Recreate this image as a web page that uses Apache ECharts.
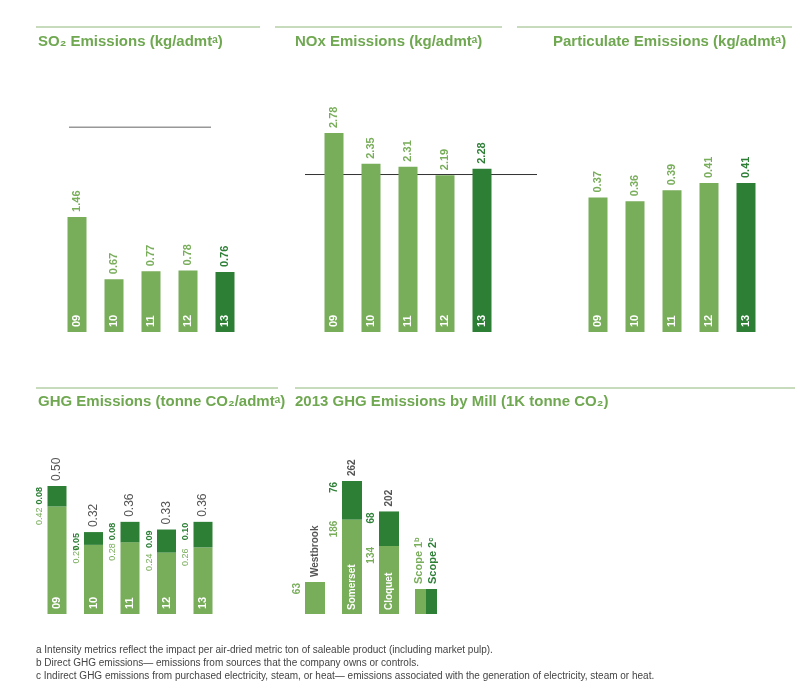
<!DOCTYPE html>
<html><head><meta charset="utf-8">
<script src="https://cdn.jsdelivr.net/npm/echarts@6/dist/echarts.min.js"></script>
<style>body{margin:0;background:#fff}#c{width:808px;height:700px}</style>
</head><body><div id="c"></div>
<script>
const years = ['09','10','11','12','13'];
const so2 = [1.46,0.67,0.77,0.78,0.76];
const nox = [2.78,2.35,2.31,2.19,2.28];
const particulate = [0.37,0.36,0.39,0.41,0.41];
const ghgScope1 = [0.42,0.27,0.28,0.24,0.26];
const ghgScope2 = [0.08,0.05,0.08,0.09,0.10];
const ghgTotal = [0.50,0.32,0.36,0.33,0.36];
const mills = ['Westbrook','Somerset','Cloquet'];
const millScope1 = [63,186,134];
const millScope2 = [0,76,68];
const millTotal = [63,262,202];
const so2Ref = 2.60, noxRef = 2.20;

const LG='#78ad5a', DG='#2c7f35', GR='#555', TC='#6fa851';
const F='Liberation Sans';
const chart = echarts.init(document.getElementById('c'));

const grids=[
 {left:58.5,width:185,top:127,height:205},
 {left:69,width:142,top:127,height:205},
 {left:315.5,width:185,top:133,height:199},
 {left:305,width:232,top:133,height:199},
 {left:579.5,width:185,top:183,height:149},
 {left:38.75,width:182.5,top:486,height:128},
 {left:296.5,width:111,top:481,height:133}
];
const xAxis=[], yAxis=[];
const maxes=[2.6,2.6,2.78,2.78,0.41,0.5,262];
grids.forEach((g,i)=>{
  const isRef = (i===1||i===3);
  xAxis.push(isRef?{type:'value',gridIndex:i,min:0,max:1,show:false}
    :{type:'category',gridIndex:i,data:(i===6?mills:years),show:false});
  yAxis.push({type:'value',gridIndex:i,min:0,max:maxes[i],show:false});
});

function yearBars(idx,vals){
  return {type:'bar',xAxisIndex:idx,yAxisIndex:idx,barWidth:19,z:3,
    data:vals.map((v,i)=>({value:v,itemStyle:{color:i===4?DG:LG},
      label:{color:i===4?DG:LG}})),
    label:{show:true,position:'top',rotate:90,align:'left',verticalAlign:'middle',distance:5,
      fontFamily:F,fontWeight:'bold',fontSize:11,formatter:p=>p.value.toFixed(2)},
    markPoint:null};
}
function yearInside(idx,vals){
  return {type:'bar',xAxisIndex:idx,yAxisIndex:idx,barWidth:19,barGap:'-100%',z:4,
    itemStyle:{color:'transparent'},data:vals,
    label:{show:true,position:'insideBottom',rotate:90,align:'left',verticalAlign:'middle',distance:5,
      color:'#fff',fontFamily:F,fontWeight:'bold',fontSize:11,formatter:p=>years[p.dataIndex]}};
}
function refLine(idx,val,noteStyle){
  return {type:'line',xAxisIndex:idx,yAxisIndex:idx,z:1,symbol:'none',silent:true,
    lineStyle:{color:'#333',width:1},
    data:[{value:[0,val],label:{show:true,position:'left',distance:5,color:GR,fontSize:9,fontFamily:F,formatter:val.toFixed(2)}},
          {value:[1,val],label:Object.assign({show:true,color:GR,fontSize:8,lineHeight:10,fontFamily:F,
             align:'left',verticalAlign:'top',formatter:'2010 AF&PA\naverage\nperformance'},noteStyle)}],
    label:{show:true}};
}
const sideLabel=(color)=>({show:true,position:[-3,1],rotate:90,align:'right',verticalAlign:'bottom',
  color:color,fontFamily:F,fontSize:9,fontWeight:'bold'});

const series=[
  yearBars(0,so2), yearInside(0,so2), refLine(1,so2Ref,{position:[8,-5]}),
  yearBars(2,nox), yearInside(2,nox), refLine(3,noxRef,{position:[-38,5]}),
  yearBars(4,particulate), yearInside(4,particulate),
  {type:'bar',xAxisIndex:5,yAxisIndex:5,stack:'g',barWidth:19,data:ghgScope1,itemStyle:{color:LG},
    label:Object.assign(sideLabel(LG),{fontWeight:'normal',formatter:p=>p.value.toFixed(2)})},
  {type:'bar',xAxisIndex:5,yAxisIndex:5,stack:'g',barWidth:19,data:ghgScope2,itemStyle:{color:DG},
    label:Object.assign(sideLabel(DG),{formatter:p=>p.value.toFixed(2)})},
  {type:'bar',xAxisIndex:5,yAxisIndex:5,barWidth:19,barGap:'-100%',z:4,data:ghgTotal,itemStyle:{color:'transparent'},
    label:{show:true,position:'insideBottom',rotate:90,align:'left',verticalAlign:'middle',distance:5,
      color:'#fff',fontFamily:F,fontWeight:'bold',fontSize:11,formatter:p=>years[p.dataIndex]}},
  {type:'bar',xAxisIndex:5,yAxisIndex:5,barWidth:19,barGap:'-100%',z:4,data:ghgTotal,itemStyle:{color:'transparent'},
    label:{show:true,position:'top',rotate:90,align:'left',verticalAlign:'middle',distance:5,
      color:GR,fontFamily:F,fontSize:12,formatter:p=>p.value.toFixed(2)}},
  {type:'bar',xAxisIndex:6,yAxisIndex:6,stack:'m',barWidth:20,data:millScope1,itemStyle:{color:LG},
    label:Object.assign(sideLabel(LG),{fontSize:10,formatter:p=>String(p.value)})},
  {type:'bar',xAxisIndex:6,yAxisIndex:6,stack:'m',barWidth:20,data:millScope2,itemStyle:{color:DG},
    label:Object.assign(sideLabel(DG),{fontSize:10,formatter:p=>p.value?String(p.value):''})},
  {type:'bar',xAxisIndex:6,yAxisIndex:6,barWidth:20,barGap:'-100%',z:4,data:millTotal,itemStyle:{color:'transparent'},
    label:{show:true,position:'top',rotate:90,align:'left',verticalAlign:'middle',distance:5,
      color:GR,fontFamily:F,fontWeight:'bold',fontSize:10,
      formatter:p=>p.dataIndex===0?mills[0]:String(p.value)}},
  {type:'bar',xAxisIndex:6,yAxisIndex:6,barWidth:20,barGap:'-100%',z:4,data:millTotal,itemStyle:{color:'transparent'},
    label:{show:true,position:'insideBottom',rotate:90,align:'left',verticalAlign:'middle',distance:4,
      color:'#fff',fontFamily:F,fontWeight:'bold',fontSize:10,
      formatter:p=>p.dataIndex===0?'':mills[p.dataIndex]}}
];

const ttl=(x,y,txt)=>({type:'text',left:x,top:y,style:{text:txt,font:'bold 15px "Liberation Sans"',fill:TC}});
const rule=(x1,x2,y)=>({type:'line',shape:{x1:x1,y1:y,x2:x2,y2:y},style:{stroke:'#8fb67a',lineWidth:1}});
const note=(y,t)=>({type:'text',left:36,top:y,style:{text:t,font:'10px "Liberation Sans"',fill:'#444'}});
const graphic=[
  rule(36,260,27),rule(275,502,27),rule(517,792,27),rule(36,278,388),rule(295,795,388),
  ttl(38,34,'SO₂ Emissions (kg/admtᵃ)'),ttl(295,34,'NOx Emissions (kg/admtᵃ)'),
  ttl(553,34,'Particulate Emissions (kg/admtᵃ)'),
  ttl(38,394,'GHG Emissions (tonne CO₂/admtᵃ)'),ttl(295,394,'2013 GHG Emissions by Mill (1K tonne CO₂)'),
  {type:'rect',shape:{x:415,y:589,width:11,height:25},style:{fill:LG}},
  {type:'rect',shape:{x:426,y:589,width:11,height:25},style:{fill:DG}},
  {type:'text',x:424,y:584,rotation:Math.PI/2,style:{text:'Scope 1ᵇ',font:'bold 11px "Liberation Sans"',fill:LG,textAlign:'left',textVerticalAlign:'bottom'}},
  {type:'text',x:438,y:584,rotation:Math.PI/2,style:{text:'Scope 2ᶜ',font:'bold 11px "Liberation Sans"',fill:DG,textAlign:'left',textVerticalAlign:'bottom'}},
  note(645,'a Intensity metrics reflect the impact per air-dried metric ton of saleable product (including market pulp).'),
  note(658,'b Direct GHG emissions— emissions from sources that the company owns or controls.'),
  note(671,'c Indirect GHG emissions from purchased electricity, steam, or heat— emissions associated with the generation of electricity, steam or heat.')
];

chart.setOption({animation:false,grid:grids,xAxis:xAxis,yAxis:yAxis,series:series,graphic:graphic});
</script></body></html>
